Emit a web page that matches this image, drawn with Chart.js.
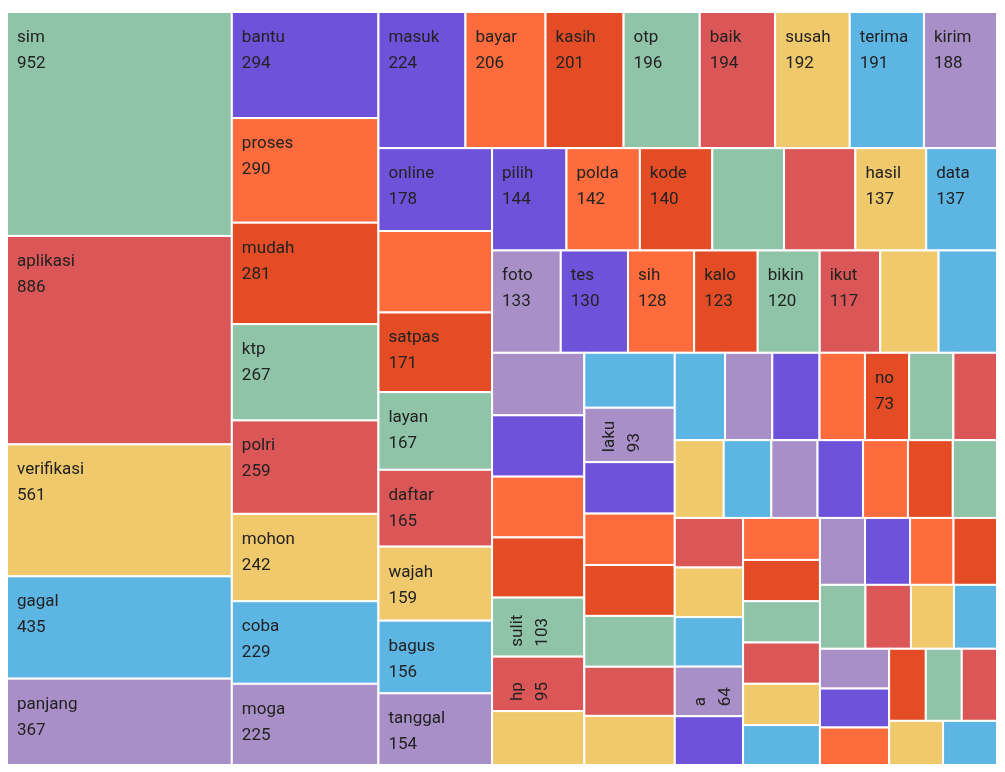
<!DOCTYPE html>
<html>
<head>
<meta charset="utf-8">
<script src="https://cdn.jsdelivr.net/npm/chart.js@4.4.1/dist/chart.umd.min.js"></script>
<style>
  html, body { margin: 0; padding: 0; background: #fff; }
  #wrap { width: 1005px; height: 772px; }
</style>
</head>
<body>
<div id="wrap"><canvas id="treemap"></canvas></div>
<script>
// Word frequencies (empty name = cell drawn without a label)
var names = [
    'sim', 'aplikasi', 'verifikasi', 'gagal', 'panjang',
    'bantu', 'proses', 'mudah', 'ktp', 'polri', 'mohon', 'coba', 'moga',
    'masuk', 'bayar', 'kasih', 'otp', 'baik', 'susah', 'terima', 'kirim',
    'online', '', 'satpas', 'layan', 'daftar', 'wajah', 'bagus', 'tanggal',
    'pilih', 'polda', 'kode', '', '', 'hasil', 'data', 'foto',
    'tes', 'sih', 'kalo', 'bikin', 'ikut', '', '', '',
    '', '', '', 'sulit', 'hp', '', '',
    'laku', '', '', '', '', '', '', '',
    '', '', '', 'no', '', '', '',
    '', '', '', '', '', '', '',
    '', '', 'a', '', '',
    '', '', '', '', '',
    '', '', '', '',
    '', '', '', '',
    '', '', '',
    '', '', '', '', ''
];
var counts = [
    952, 886, 561, 435, 367,
    294, 290, 281, 267, 259, 242, 229, 225,
    224, 206, 201, 196, 194, 192, 191, 188,
    178, 175, 171, 167, 165, 159, 156, 154,
    144, 142, 140, 139, 138, 137, 137, 133,
    130, 128, 123, 120, 117, 113, 113, 109,
    107, 106, 105, 103, 95, 94, 94,
    93, 88, 88, 87, 87, 84, 84, 83,
    78, 78, 75, 73, 73, 72, 72,
    70, 68, 67, 66, 66, 65, 64,
    64, 64, 64, 63, 61,
    60, 60, 60, 60, 58,
    57, 57, 55, 55,
    55, 55, 52, 52,
    52, 51, 49,
    50, 49, 48, 45, 45
];

var palette = ['#8fc4a8', '#db5656', '#efc96b', '#5db5e4', '#a98fc7', '#6e52d9', '#fe6b3c', '#e34c25'];

// Squarified layout (golden-ratio variant) in abstract units W x H
var W = 990, H = 753;
var PHI = (1 + Math.sqrt(5)) / 2;

function squarify(vals, x0, y0, x1, y1) {
    var rects = [];
    var value = vals.reduce(function (a, b) { return a + b; }, 0);
    var n = vals.length, i0 = 0, i1 = 0;
    while (i0 < n) {
        var dx = x1 - x0, dy = y1 - y0;
        var sum = vals[i1++];
        var min = sum, max = sum;
        var alpha = Math.max(dy / dx, dx / dy) / (value * PHI);
        var beta = sum * sum * alpha;
        var minRatio = Math.max(max / beta, beta / min);
        for (; i1 < n; i1++) {
            var v = vals[i1];
            sum += v;
            if (v < min) min = v;
            if (v > max) max = v;
            beta = sum * sum * alpha;
            var r = Math.max(max / beta, beta / min);
            if (r > minRatio) { sum -= v; break; }
            minRatio = r;
        }
        var k, off;
        if (dx < dy) {
            // horizontal strip on top
            var rh = dy * sum / value;
            off = x0;
            for (k = i0; k < i1; k++) {
                var rw = dx * vals[k] / sum;
                rects.push({ x: off, y: y0, w: rw, h: rh });
                off += rw;
            }
            y0 += rh;
        } else {
            // vertical strip on the left
            var cw = dx * sum / value;
            off = y0;
            for (k = i0; k < i1; k++) {
                var ch = dy * vals[k] / sum;
                rects.push({ x: x0, y: off, w: cw, h: ch });
                off += ch;
            }
            x0 += cw;
        }
        value -= sum;
        i0 = i1;
    }
    return rects;
}

var cells = squarify(counts, 0, 0, W, H);

// Draw cells through the chart's own x/y scales
var treemapPlugin = {
    id: 'treemapCells',
    afterDatasetsDraw: function (chart) {
        var ctx = chart.ctx;
        var xs = chart.scales.x, ys = chart.scales.y;
        ctx.save();
        cells.forEach(function (c, i) {
            var x0 = xs.getPixelForValue(c.x), x1 = xs.getPixelForValue(c.x + c.w);
            var y0 = ys.getPixelForValue(c.y), y1 = ys.getPixelForValue(c.y + c.h);
            var w = x1 - x0, h = y1 - y0;
            ctx.fillStyle = palette[i % palette.length];
            ctx.fillRect(x0, y0, w, h);
            ctx.strokeStyle = '#ffffff';
            ctx.lineWidth = 2;
            ctx.strokeRect(x0, y0, w, h);
            if (!names[i]) return;
            ctx.fillStyle = '#222222';
            ctx.font = '17px Roboto';
            ctx.textBaseline = 'alphabetic';
            ctx.textAlign = 'left';
            if (h < 67.5 && w > h) {
                ctx.save();
                ctx.translate(x0, y1);
                ctx.rotate(-Math.PI / 2);
                ctx.fillText(names[i], 10, 30);
                ctx.fillText(String(counts[i]), 10, 55);
                ctx.restore();
            } else {
                ctx.fillText(names[i], x0 + 10, y0 + 30);
                ctx.fillText(String(counts[i]), x0 + 10, y0 + 56);
            }
        });
        ctx.restore();
    }
};

new Chart(document.getElementById('treemap'), {
    type: 'scatter',
    data: { datasets: [{ data: [], showLine: false }] },
    options: {
        responsive: true,
        maintainAspectRatio: false,
        animation: false,
        layout: { padding: { left: 7, right: 8, top: 12, bottom: 7 } },
        scales: {
            x: { type: 'linear', min: 0, max: W, display: false },
            y: { type: 'linear', min: 0, max: H, reverse: true, display: false }
        },
        plugins: { legend: { display: false }, tooltip: { enabled: false } }
    },
    plugins: [treemapPlugin]
});
</script>
</body>
</html>
